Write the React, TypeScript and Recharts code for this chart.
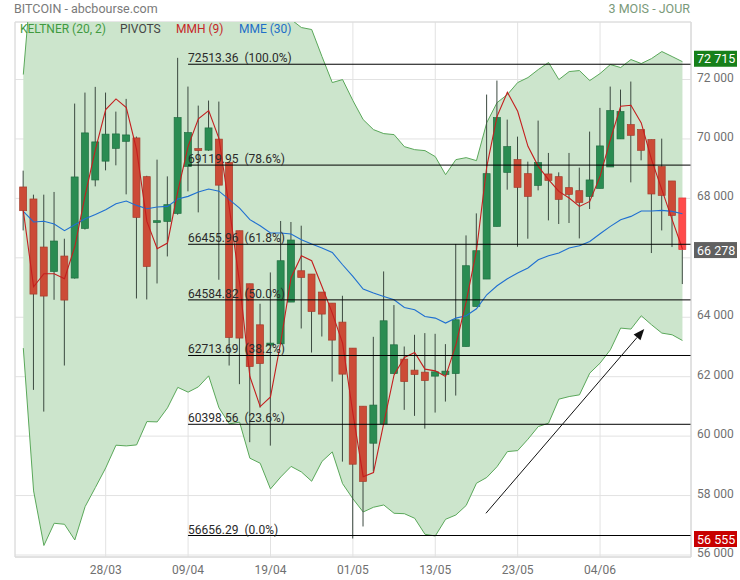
import React from 'react';
import {
  ComposedChart, Area, Bar, Line, XAxis, YAxis, CartesianGrid,
  ReferenceLine, ReferenceDot, ReferenceArea,
} from 'recharts';

const dates = [
  '18/03','19/03','20/03','21/03','22/03','25/03','26/03','27/03','28/03','29/03',
  '01/04','02/04','03/04','04/04','05/04','08/04','09/04','10/04','11/04','12/04',
  '15/04','16/04','17/04','18/04','19/04','22/04','23/04','24/04','25/04','26/04',
  '29/04','30/04','01/05','02/05','03/05','06/05','07/05','08/05','09/05','10/05',
  '13/05','14/05','15/05','16/05','17/05','20/05','21/05','22/05','23/05','24/05',
  '27/05','28/05','29/05','30/05','31/05','03/06','04/06','05/06','06/06','07/06',
  '10/06','11/06','12/06','13/06','14/06',
];

const opens = [68384, 67980, 66363, 65542, 66060, 65319, 66990, 68620, 69253, 69684, 69920, 70034, 68731, 67192, 67226, 67495, 69078, 69674, 69624, 69994, 69213, 66912, 65127, 63746, 63063, 63106, 64511, 65565, 65454, 64848, 64477, 63837, 62962, 61008, 59762, 60412, 62106, 62591, 62221, 62153, 62019, 62073, 62106, 63016, 64363, 65286, 67057, 68876, 69304, 68832, 68438, 68822, 68731, 68361, 68260, 68068, 68337, 69058, 70001, 70482, 70314, 69977, 69068, 68586, 68014];
const highs = [68933, 68125, 68125, 68216, 66643, 71190, 71560, 71752, 71560, 70920, 71348, 70080, 68760, 69304, 68741, 72729, 71762, 71122, 71291, 71257, 69213, 66912, 65127, 64454, 65508, 67239, 67205, 67081, 65454, 64848, 64477, 64723, 62962, 61008, 63342, 65542, 64410, 63016, 63410, 63467, 63443, 63096, 66464, 66754, 67495, 71493, 71964, 70651, 70078, 69236, 70617, 69529, 68876, 69529, 69034, 70247, 71045, 71762, 71661, 71931, 70314, 69977, 70011, 68586, 68014];
const lows = [66922, 61557, 60826, 64588, 62376, 65300, 66950, 68404, 68943, 69112, 68135, 64632, 64599, 65137, 66047, 67450, 68236, 67529, 69600, 65262, 62376, 61749, 59796, 60961, 59681, 63106, 64511, 63622, 62813, 63352, 61837, 59142, 56555, 56960, 58812, 60412, 62106, 60884, 60682, 60254, 60793, 61163, 61365, 63016, 64363, 65286, 67057, 68293, 66373, 66643, 68270, 67259, 67138, 67172, 66653, 67643, 68337, 69058, 70001, 68539, 69280, 66161, 66922, 66363, 65117];
const closes = [67586, 64780, 64713, 66565, 64578, 68721, 70203, 69900, 70162, 70169, 70135, 67360, 65710, 67249, 67788, 70718, 70213, 69607, 70371, 68445, 63319, 63300, 62342, 62443, 63130, 65902, 66599, 65340, 64194, 64107, 63231, 62086, 59055, 58475, 61045, 63881, 63073, 61837, 62073, 61870, 62163, 62187, 63915, 65734, 66239, 68832, 70718, 69741, 68371, 68068, 69203, 68606, 67967, 68135, 67865, 68620, 69765, 70954, 70920, 70122, 69617, 68148, 68101, 67428, 66278];

const mmh = [67586, 65026, 65464, 65464, 65296, 66373, 68091, 69640, 70988, 71348, 71055, 69640, 67226, 66306, 66498, 68236, 69752, 70674, 70954, 70011, 67687, 65161, 62005, 60995, 61321, 63174, 65329, 66070, 65902, 65036, 64140, 63130, 60772, 58637, 58772, 60436, 62062, 62645, 62813, 62254, 62197, 62005, 63073, 64521, 66239, 69068, 70762, 71570, 70930, 69752, 69078, 68630, 68236, 68014, 67731, 67899, 68741, 69977, 71099, 71132, 70540, 69304, 68293, 67283, 66296];
const mme = [67562, 67205, 67232, 67138, 66912, 67114, 67316, 67458, 67620, 67822, 67913, 67764, 67653, 67711, 67731, 67980, 68068, 68216, 68317, 68243, 67956, 67670, 67283, 67081, 66835, 66835, 66801, 66609, 66464, 66330, 66181, 65767, 65373, 64949, 64814, 64700, 64588, 64329, 64252, 64026, 63972, 63804, 63972, 64050, 64285, 64757, 65060, 65296, 65488, 65656, 65936, 66070, 66161, 66330, 66407, 66552, 66811, 67057, 67283, 67394, 67576, 67576, 67596, 67562, 67485];

const keltnerUpper = [72166, 76275, 78111, 77218, 76780, 77723, 77016, 76630, 76309, 75939, 76174, 75871, 74827, 74962, 74490, 74338, 74625, 74793, 74625, 75568, 75500, 74962, 75300, 75064, 75467, 75064, 74019, 73749, 73682, 72773, 71897, 71998, 71291, 70651, 70314, 70179, 70146, 69741, 69640, 69607, 69405, 68798, 69304, 69371, 69270, 70550, 71223, 71493, 71897, 72065, 72335, 72571, 71998, 72267, 72301, 71964, 72200, 72503, 72402, 72672, 72537, 72705, 72941, 72773, 72600];
const keltnerLower = [62962, 58156, 56320, 57068, 57034, 56505, 57627, 58273, 58930, 59695, 59671, 59705, 60490, 60479, 60951, 61641, 61480, 61658, 62029, 60951, 60412, 60470, 59257, 59088, 58223, 58627, 58981, 58795, 58482, 59149, 59469, 58401, 57893, 57448, 57607, 57684, 57404, 57390, 57236, 56697, 56640, 57202, 57347, 57667, 58415, 58610, 58974, 59479, 59513, 59897, 60321, 60436, 61244, 61332, 61389, 62120, 62456, 62904, 63635, 63602, 64050, 63746, 63467, 63410, 63218];

const pivotLevels = [72513.36, 69119.95, 66455.96, 64584.82, 62713.69, 60398.56, 56656.29];
const pivotPercents = ['100.0', '78.6', '61.8', '50.0', '38.2', '23.6', '0.0'];
const pivotStartIndex = 16;

const tagValues = [72715, 66278, 56555];
const arrowFrom = { x: 44.92, y: 57404 };
const arrowTo = { x: 60.29, y: 63602 };

const xTicks = [8, 16, 24, 32, 40, 48, 56];
const yTicks = [56000, 58000, 60000, 62000, 64000, 66000, 68000, 70000, 72000];

const X_DOMAIN: [number, number] = [-0.806, 64.83];
const Y_DOMAIN: [number, number] = [55933, 73935];
const TAG_COLORS = ['#17801a', '#616161', '#c80000'];
const FONT = 'Roboto, "Open Sans", sans-serif';

const data = dates.map((d, i) => ({
  i,
  date: d,
  open: opens[i],
  high: highs[i],
  low: lows[i],
  close: closes[i],
  mmh: mmh[i],
  mme: mme[i],
  kUp: keltnerUpper[i],
  kLow: keltnerLower[i],
}));

const fmt = (v: number) => String(Math.round(v)).replace(/\B(?=(\d{3})+(?!\d))/g, ' ');

const Candle = (props: any) => {
  const { x, y, width, height, payload } = props;
  if (!payload || !isFinite(y) || !isFinite(height)) return null;
  const { open, close, high, low, i } = payload;
  const top = Math.min(y, y + height);
  const h = Math.abs(height);
  const k = h / (high - low);
  const py = (v: number) => top + (high - v) * k;
  const cx = x + width / 2;
  const bTop = py(Math.max(open, close));
  const bBot = py(Math.min(open, close));
  const up = close >= open;
  const last = i === dates.length - 1;
  const fill = last ? '#ff4a4a' : up ? '#2a8c52' : '#cc4b37';
  const stroke = last ? '#e03b3b' : up ? '#1f6e40' : '#a53d2c';
  return (
    <g>
      <line x1={cx} x2={cx} y1={top} y2={top + h} stroke="#3c4a40" strokeWidth={1} />
      <rect x={cx - 3.5} y={bTop} width={7} height={Math.max(bBot - bTop, 1.5)} fill={fill} stroke={stroke} strokeWidth={0.7} />
    </g>
  );
};

const XTick = (p: any) => (
  <text x={p.x} y={p.y + 9} textAnchor="middle" fill="#707070" fontSize={12} fontFamily={FONT}>
    {dates[p.payload.value]}
  </text>
);

// a tick label sitting under a price tag is hidden by it in the original
const YTick = (p: any) => {
  const v = p.payload.value;
  if (tagValues.some((t) => Math.abs(t - v) < 400)) return <g />;
  return (
    <text x={p.x} y={p.y + 2} textAnchor="start" fill="#707070" fontSize={12} fontFamily={FONT}>
      {fmt(v)}
    </text>
  );
};

const ArrowShape = (p: any) => {
  const { x1, y1, x2, y2 } = p;
  if (![x1, y1, x2, y2].every((v) => isFinite(v))) return null;
  const ang = Math.atan2(y2 - y1, x2 - x1);
  const len = 11;
  const w = 4.5;
  const bx = x2 - len * Math.cos(ang);
  const by = y2 - len * Math.sin(ang);
  const pts = [
    [x2, y2],
    [bx + w * Math.sin(ang), by - w * Math.cos(ang)],
    [bx - w * Math.sin(ang), by + w * Math.cos(ang)],
  ].map((q) => q.join(',')).join(' ');
  return (
    <g>
      <line x1={x1} y1={y1} x2={bx} y2={by} stroke="#111" strokeWidth={1} />
      <polygon points={pts} fill="#111" />
    </g>
  );
};

export default function App() {
  return (
    <div style={{ position: 'absolute', left: 0, top: 0, width: 740, height: 580, background: '#fff', fontFamily: FONT, overflow: 'hidden' }}>
      <ComposedChart
        width={740}
        height={580}
        data={data}
        margin={{ top: 22, right: 0, left: 15, bottom: 0 }}
      >
        <CartesianGrid stroke="#e2e2e2" strokeWidth={1} />
        <XAxis
          dataKey="i"
          type="number"
          domain={X_DOMAIN}
          allowDataOverflow
          ticks={xTicks}
          interval={0}
          tick={<XTick />}
          tickLine={false}
          axisLine={{ stroke: '#dcdcdc' }}
          height={23}
        />
        <YAxis
          orientation="right"
          type="number"
          domain={Y_DOMAIN}
          allowDataOverflow
          ticks={yTicks}
          interval={0}
          tick={<YTick />}
          tickLine={false}
          tickSize={4}
          tickMargin={2}
          axisLine={{ stroke: '#dcdcdc' }}
          width={49}
        />
        <ReferenceArea
          x1={X_DOMAIN[0]}
          x2={X_DOMAIN[1]}
          y1={Y_DOMAIN[0]}
          y2={Y_DOMAIN[1]}
          fill="none"
          stroke="#dcdcdc"
          ifOverflow="visible"
        />
        <Area
          type="linear"
          dataKey={(d: any) => [d.kLow, d.kUp]}
          fill="#cce5cc"
          fillOpacity={1}
          stroke="#5aa85a"
          strokeWidth={1}
          dot={false}
          activeDot={false}
          isAnimationActive={false}
        />
        <Bar
          dataKey={(d: any) => [d.low, d.high]}
          barSize={8}
          shape={<Candle />}
          isAnimationActive={false}
        />
        <Line type="linear" dataKey="mme" stroke="#1f6fd1" strokeWidth={1.1} dot={false} activeDot={false} isAnimationActive={false} />
        <Line type="linear" dataKey="mmh" stroke="#c41e1e" strokeWidth={1.1} dot={false} activeDot={false} isAnimationActive={false} />
        {pivotLevels.map((lv, k) => (
          <ReferenceLine
            key={'pl' + k}
            segment={[{ x: pivotStartIndex, y: lv }, { x: X_DOMAIN[1], y: lv }]}
            stroke="#000"
            strokeWidth={1}
            ifOverflow="visible"
          />
        ))}
        {pivotLevels.map((lv, k) => (
          <ReferenceDot
            key={'pt' + k}
            x={pivotStartIndex}
            y={lv}
            r={0}
            ifOverflow="visible"
            shape={(p: any) => (
              <text x={p.cx} y={p.cy - 2} fill="#2a2a2a" fontSize={12} fontFamily={FONT}>
                {lv.toFixed(2)}
                <tspan dx={6}>{'(' + pivotPercents[k] + '%)'}</tspan>
              </text>
            )}
          />
        ))}
        <ReferenceLine
          segment={[arrowFrom, arrowTo]}
          ifOverflow="visible"
          shape={<ArrowShape />}
        />
        {tagValues.map((v, k) => (
          <ReferenceDot
            key={'tag' + k}
            x={X_DOMAIN[1]}
            y={v}
            r={0}
            ifOverflow="visible"
            shape={(p: any) => (
              <g>
                <rect x={p.cx + 3} y={p.cy - 7.5} width={43} height={16} fill={TAG_COLORS[k]} />
                <text x={p.cx + 6} y={p.cy + 5} fill="#fff" fontSize={12.5} fontFamily={FONT}>
                  {fmt(v)}
                </text>
              </g>
            )}
          />
        ))}
      </ComposedChart>
      <svg width={740} height={580} style={{ position: 'absolute', left: 0, top: 0, pointerEvents: 'none', overflow: 'visible' }}>
        <text x={14} y={13} fill="#7a7a7a" fontSize={12.5} fontFamily={FONT}>BITCOIN - abcbourse.com</text>
        <text x={690} y={13} textAnchor="end" fill="#7a9a7a" fontSize={12.5} fontFamily={FONT}>3 MOIS - JOUR</text>
        <text x={20} y={33} fill="#3f9a3f" fontSize={12} fontFamily={FONT}>KELTNER (20, 2)</text>
        <text x={120} y={33} fill="#444" fontSize={12} fontFamily={FONT}>PIVOTS</text>
        <text x={176} y={33} fill="#c62828" fontSize={12} fontFamily={FONT}>MMH (9)</text>
        <text x={239} y={33} fill="#1e6fc8" fontSize={12} fontFamily={FONT}>MME (30)</text>
      </svg>
    </div>
  );
}
